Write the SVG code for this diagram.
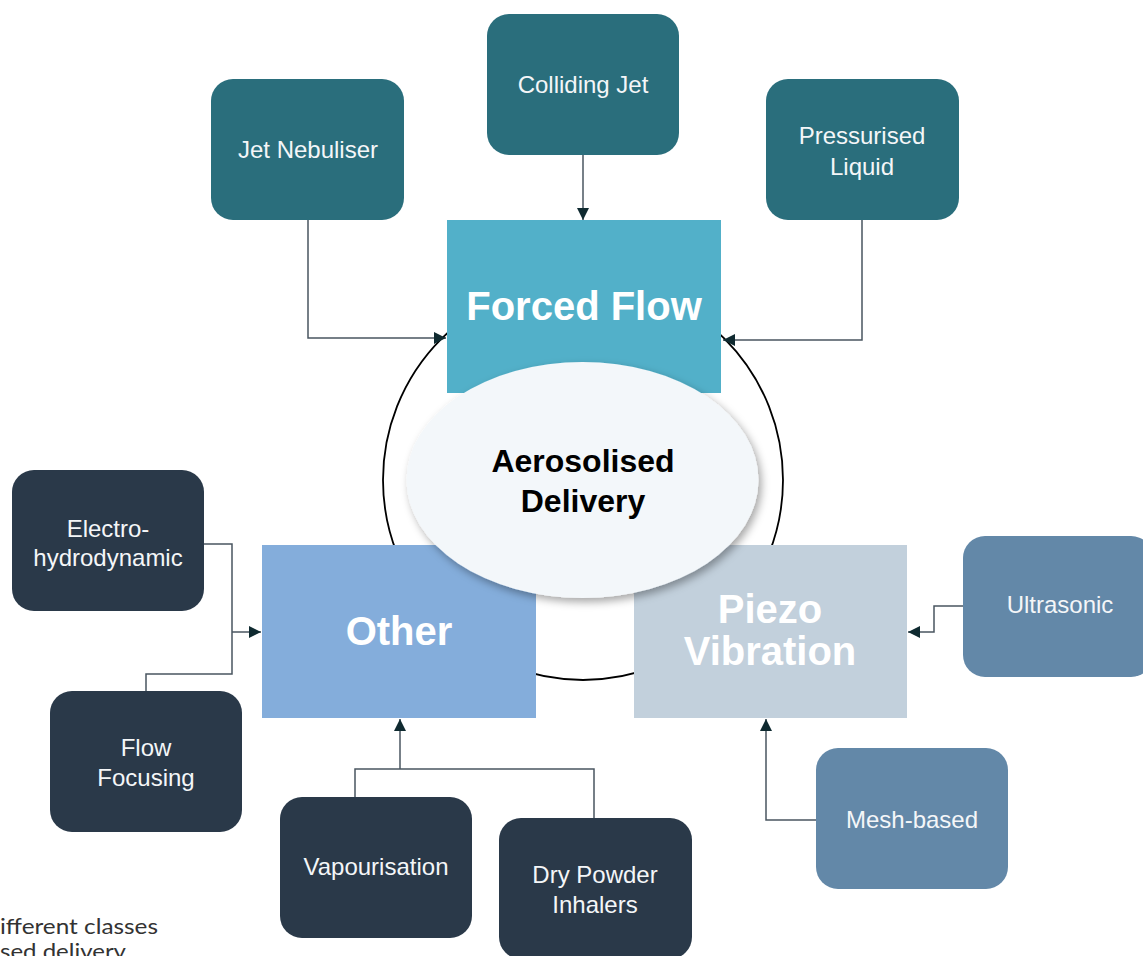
<svg xmlns="http://www.w3.org/2000/svg" width="1143" height="956" viewBox="0 0 1143 956">
<defs>
<style>
.teal{fill:#2A6E7C}
.dark{fill:#2A3949}
.slate{fill:#6388A8}
.sm{font-family:"Liberation Sans",Arial,sans-serif;font-size:24px;fill:#F4F6F8;text-anchor:middle}
.big{font-family:"Liberation Sans",Arial,sans-serif;font-size:40px;font-weight:bold;fill:#FFFFFF;text-anchor:middle}
.ctr{font-family:"Liberation Sans",Arial,sans-serif;font-size:32px;font-weight:bold;fill:#000000;text-anchor:middle}
.con{fill:none;stroke:#4A5660;stroke-width:1.5}
.cap{font-family:Lato,"Open Sans",sans-serif;font-size:22px;fill:#333333}
</style>
<marker id="arr" markerUnits="userSpaceOnUse" markerWidth="14" markerHeight="12" refX="12" refY="6" orient="auto">
<path d="M0,0 L12,6 L0,12 Z" fill="#0F2A30"/>
</marker>
<filter id="sh" x="-20%" y="-20%" width="140%" height="150%">
<feDropShadow dx="3" dy="4" stdDeviation="4" flood-color="#000" flood-opacity="0.35"/>
</filter>
</defs>
<rect width="1143" height="956" fill="#FFFFFF"/>

<g id="ring">
<circle cx="583" cy="480" r="200" fill="none" stroke="#000" stroke-width="1.8"/>
</g>

<g id="forced-flow">
<rect x="447" y="220" width="274" height="173" fill="#52B0C9"/>
<text class="big" x="584" y="320">Forced Flow</text>
</g>
<g id="other">
<rect x="262" y="545" width="274" height="173" fill="#84ADDB"/>
<text class="big" x="399" y="645">Other</text>
</g>
<g id="piezo">
<rect x="634" y="545" width="273" height="173" fill="#C2D0DC"/>
<text class="big" x="770" y="623">Piezo</text>
<text class="big" x="770" y="665">Vibration</text>
</g>

<g id="connectors">
<path class="con" d="M308 220 V338 H446" marker-end="url(#arr)"/>
<path class="con" d="M583 155 V220" marker-end="url(#arr)"/>
<path class="con" d="M862 220 V340 H723" marker-end="url(#arr)"/>
<path class="con" d="M204 544 H232 V674 H146 V691"/>
<path class="con" d="M232 632 H261" marker-end="url(#arr)"/>
<path class="con" d="M355 797 V769 H594 V819"/>
<path class="con" d="M400 769 V719" marker-end="url(#arr)"/>
<path class="con" d="M963 606 H934 V632 H908" marker-end="url(#arr)"/>
<path class="con" d="M816 820 H766 V719" marker-end="url(#arr)"/>
</g>

<g id="aerosolised">
<ellipse cx="582.5" cy="480" rx="176" ry="118" fill="#F3F7FA" filter="url(#sh)"/>
<text class="ctr" x="583" y="472">Aerosolised</text>
<text class="ctr" x="583" y="512">Delivery</text>
</g>

<g id="jet-nebuliser">
<rect class="teal" x="211" y="79" width="193" height="141" rx="22"/>
<text class="sm" x="308" y="158">Jet Nebuliser</text>
</g>
<g id="colliding-jet">
<rect class="teal" x="487" y="14" width="192" height="141" rx="22"/>
<text class="sm" x="583" y="93">Colliding Jet</text>
</g>
<g id="pressurised-liquid">
<rect class="teal" x="766" y="79" width="193" height="141" rx="22"/>
<text class="sm" x="862" y="144">Pressurised</text>
<text class="sm" x="862" y="175">Liquid</text>
</g>
<g id="electrohydrodynamic">
<rect class="dark" x="12" y="470" width="192" height="141" rx="22"/>
<text class="sm" x="108" y="537">Electro-</text>
<text class="sm" x="108" y="566">hydrodynamic</text>
</g>
<g id="flow-focusing">
<rect class="dark" x="50" y="691" width="192" height="141" rx="22"/>
<text class="sm" x="146" y="756">Flow</text>
<text class="sm" x="146" y="786">Focusing</text>
</g>
<g id="vapourisation">
<rect class="dark" x="280" y="797" width="192" height="141" rx="22"/>
<text class="sm" x="376" y="875">Vapourisation</text>
</g>
<g id="dry-powder-inhalers">
<rect class="dark" x="499" y="818" width="193" height="141" rx="22"/>
<text class="sm" x="595" y="883">Dry Powder</text>
<text class="sm" x="595" y="913">Inhalers</text>
</g>
<g id="ultrasonic">
<rect class="slate" x="963" y="536" width="190" height="141" rx="22"/>
<text class="sm" x="1060" y="613">Ultrasonic</text>
</g>
<g id="mesh-based">
<rect class="slate" x="816" y="748" width="192" height="141" rx="22"/>
<text class="sm" x="912" y="828">Mesh-based</text>
</g>

<g id="caption">
<text class="cap" x="0" y="934" textLength="158" lengthAdjust="spacingAndGlyphs">ifferent classes</text>
<text class="cap" x="0" y="959" textLength="126" lengthAdjust="spacingAndGlyphs">sed delivery</text>
</g>
</svg>
